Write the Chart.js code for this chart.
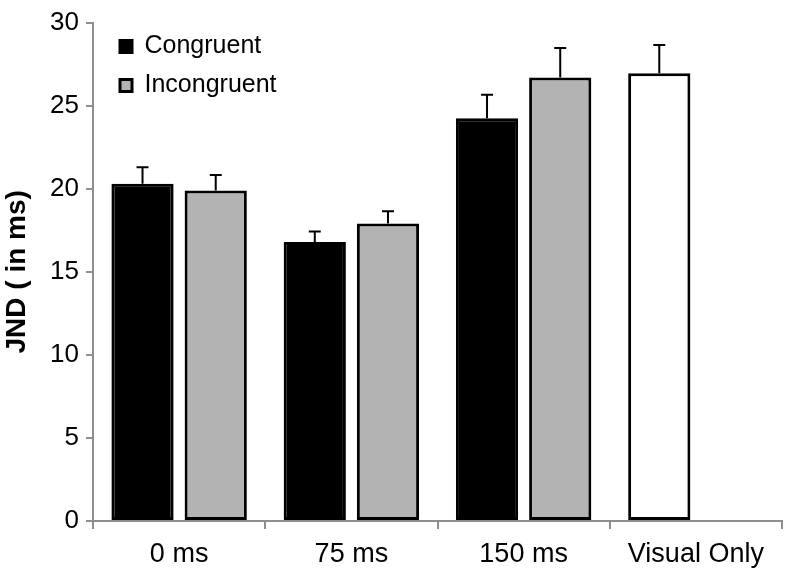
<!DOCTYPE html>
<html>
<head>
<meta charset="utf-8">
<script src="https://cdn.jsdelivr.net/npm/chart.js@4/dist/chart.umd.min.js"></script>
<style>
  html, body { margin: 0; padding: 0; background: #fff; }
  #wrap { width: 786px; height: 573px; }
</style>
</head>
<body>
<div id="wrap"><canvas id="jnd_chart"></canvas></div>
<script>
const categories = ['0 ms', '75 ms', '150 ms', 'Visual Only'];
const congruent = [20.3, 16.8, 24.25, 26.95];     // last bar = Visual Only (white)
const congruentErr = [1.0, 0.62, 1.4, 1.7];
const incongruent = [19.9, 17.9, 26.7, null];
const incongruentErr = [0.93, 0.75, 1.77, null];
const yTicks = [0, 5, 10, 15, 20, 25, 30];

const FONT = "'Liberation Sans', Arial, sans-serif";
const AXIS_GREY = '#8f8f8f';

// upper whiskers only, like the original
const errorBars = {
  id: 'errorBars',
  afterDatasetsDraw(chart) {
    const ctx = chart.ctx;
    const y = chart.scales.y;
    const errs = [congruentErr, incongruentErr];
    ctx.save();
    ctx.strokeStyle = '#000';
    ctx.lineWidth = 2;
    chart.data.datasets.forEach((ds, i) => {
      const meta = chart.getDatasetMeta(i);
      meta.data.forEach((bar, j) => {
        const v = ds.data[j];
        const e = errs[i][j];
        if (v == null || e == null) return;
        const top = y.getPixelForValue(v + e);
        ctx.beginPath();
        ctx.moveTo(bar.x, bar.y);
        ctx.lineTo(bar.x, top);
        ctx.moveTo(bar.x - 6, top);
        ctx.lineTo(bar.x + 6, top);
        ctx.stroke();
      });
    });
    ctx.restore();
  }
};

// nudge the in-plot legend away from the corner
const legendShift = {
  id: 'legendShift',
  afterLayout(chart) {
    const lg = chart.legend;
    if (!lg) return;
    lg.left += 13; lg.right += 13;
    lg.top += 20; lg.bottom += 20;
  }
};

const config = {
  type: 'bar',
  data: {
    labels: categories,
    datasets: [
      {
        label: 'Congruent',
        data: congruent,
        backgroundColor: (c) => c.dataIndex === 3 ? '#ffffff' : '#000000',
        borderColor: '#000',
        borderWidth: 3,
        borderSkipped: false
      },
      {
        label: 'Incongruent',
        data: incongruent,
        backgroundColor: '#b3b3b3',
        borderColor: '#000',
        borderWidth: 3,
        borderSkipped: false
      }
    ]
  },
  options: {
    responsive: true,
    maintainAspectRatio: false,
    animation: false,
    categoryPercentage: 0.85,
    barPercentage: 0.85,
    layout: { padding: { top: 17, right: 4 } },
    plugins: {
      legend: {
        position: 'chartArea',
        align: 'start',
        labels: {
          color: '#000',
          font: { family: FONT, size: 25 },
          boxWidth: 12,
          boxHeight: 12,
          padding: 14
        }
      },
      tooltip: { enabled: false }
    },
    scales: {
      x: {
        grid: { offset: true, drawOnChartArea: false, tickLength: 8, color: AXIS_GREY, lineWidth: 2 },
        border: { color: AXIS_GREY, width: 2 },
        ticks: { color: '#000', font: { family: FONT, size: 27 }, padding: 9 },
        afterFit: (s) => { s.height = 52; }
      },
      y: {
        min: 0,
        max: 30,
        afterBuildTicks: (s) => { s.ticks = yTicks.map(v => ({ value: v })); },
        grid: { drawOnChartArea: false, tickLength: 7, color: AXIS_GREY, lineWidth: 2 },
        border: { color: AXIS_GREY, width: 2 },
        ticks: { color: '#000', font: { family: FONT, size: 26 }, padding: 7 },
        title: {
          display: true,
          text: 'JND ( in ms)',
          color: '#000',
          font: { family: FONT, size: 28, weight: 'bold' },
          padding: 0
        },
        afterFit: (s) => { s.width = 93; }
      }
    }
  },
  plugins: [errorBars, legendShift]
};

document.addEventListener('DOMContentLoaded', () => {
  new Chart(document.getElementById('jnd_chart').getContext('2d'), config);
});
</script>
</body>
</html>
